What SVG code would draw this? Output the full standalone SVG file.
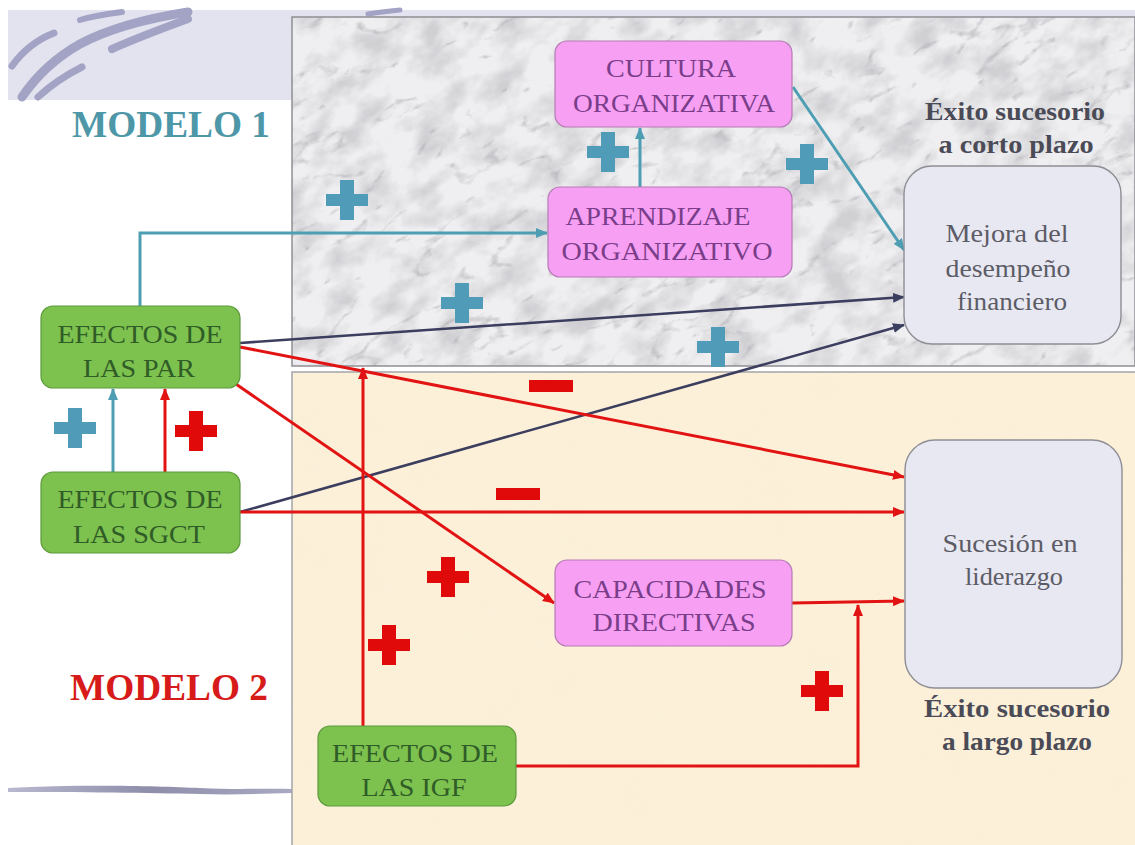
<svg xmlns="http://www.w3.org/2000/svg" width="1135" height="845" viewBox="0 0 1135 845" font-family="'Liberation Serif', 'Times New Roman', serif">
  <defs>
    <style>
      text { font-family: "Liberation Serif", "Times New Roman", serif; }
      .txt { text-anchor: middle; }
      .pink rect { fill: #f7a0f3; stroke: #b57bb4; stroke-width: 1.2; }
      .pink text { fill: #7a3d8a; font-size: 26px; }
      .green rect { fill: #7dc14f; stroke: #5d9a3c; stroke-width: 1.2; }
      .green text { fill: #2f5c27; font-size: 26px; }
      .grey rect { fill: #e8e8f3; stroke: #8d8d94; stroke-width: 1.4; }
      .grey text { fill: #5c5c66; font-size: 26px; }
      .caption { fill: #4b4b57; font-size: 26px; font-weight: bold; }
      .model { font-size: 37px; font-weight: bold; }
      .teal { fill: none; stroke: #4d9db3; stroke-width: 3; }
      .navy { fill: none; stroke: #3b3e5e; stroke-width: 2.6; }
      .red { fill: none; stroke: #e21313; stroke-width: 3; }
      .swoosh { fill: none; stroke: #a3a3c6; stroke-linecap: round; }
    </style>
    <marker id="aTeal" viewBox="0 0 12 10" refX="11" refY="5" markerWidth="12" markerHeight="10" markerUnits="userSpaceOnUse" orient="auto">
      <path d="M0,0 L12,5 L0,10 z" fill="#4d9db3"/>
    </marker>
    <marker id="aNavy" viewBox="0 0 12 10" refX="11" refY="5" markerWidth="12" markerHeight="10" markerUnits="userSpaceOnUse" orient="auto">
      <path d="M0,0 L12,5 L0,10 z" fill="#3b3e5e"/>
    </marker>
    <marker id="aRed" viewBox="0 0 12 10" refX="11" refY="5" markerWidth="12" markerHeight="10" markerUnits="userSpaceOnUse" orient="auto">
      <path d="M0,0 L12,5 L0,10 z" fill="#e21313"/>
    </marker>
    <path id="plus" d="M-21,-6 H-7 V-20 H7 V-6 H21 V6 H7 V20 H-7 V6 H-21 Z"/>
    <rect id="minus" x="-22" y="-6" width="44" height="12"/>
    <clipPath id="marbleClip"><rect x="292" y="17" width="843" height="349"/></clipPath>
    <clipPath id="creamClip"><rect x="292" y="372" width="843" height="473"/></clipPath>
    <!-- marble veining: thin dark lines where turbulence is near zero -->
    <filter id="veins" x="0" y="0" width="1" height="1">
      <feTurbulence type="turbulence" baseFrequency="0.012 0.026" numOctaves="5" seed="3"/>
      <feColorMatrix type="matrix" values="0 0 0 0 0.38  0 0 0 0 0.38  0 0 0 0 0.41  -6 0 0 0 0.95"/>
    </filter>
    <filter id="cloud" x="0" y="0" width="1" height="1">
      <feTurbulence type="fractalNoise" baseFrequency="0.025 0.04" numOctaves="4" seed="9"/>
      <feColorMatrix type="matrix" values="0 0 0 0 0.5  0 0 0 0 0.5  0 0 0 0 0.53  2.6 0 0 0 -1.05"/>
    </filter>
    <filter id="mottle" x="0" y="0" width="1" height="1">
      <feTurbulence type="fractalNoise" baseFrequency="0.015" numOctaves="3" seed="4"/>
      <feColorMatrix type="matrix" values="0 0 0 0 0.94  0 0 0 0 0.85  0 0 0 0 0.68  1.6 0 0 0 -0.7"/>
    </filter>
    <linearGradient id="lineGrad" x1="0" y1="0" x2="1" y2="0">
      <stop offset="0" stop-color="#b8b8cf"/>
      <stop offset="0.5" stop-color="#8e8eab"/>
      <stop offset="1" stop-color="#a9a9c2"/>
    </linearGradient>
  </defs>

  <!-- page background and decorative band -->
  <rect x="0" y="0" width="1135" height="845" fill="#ffffff"/>
  <rect x="8" y="10" width="1127" height="90" fill="#e3e3ef"/>
  <path class="swoosh" stroke-width="7" d="M12,66 C22,52 36,40 54,33"/>
  <path class="swoosh" stroke-width="9" d="M22,97 C35,78 55,58 80,44 C110,28 150,18 188,12"/>
  <path class="swoosh" stroke-width="7" d="M38,97 C50,86 64,76 82,67"/>
  <path class="swoosh" stroke-width="8" d="M112,49 C132,40 158,30 188,19"/>
  <path class="swoosh" stroke-width="6" d="M80,20 C93,16 106,14 122,12"/>
  <path class="swoosh" stroke-width="5" d="M368,14 C380,12 390,11 400,10"/>
  <path d="M8,788 C80,784 160,786 200,788 C240,790 270,788 292,789 L292,793 C260,794 230,795 200,794 C150,793 80,792 8,792 Z" fill="url(#lineGrad)"/>

  <!-- upper marble panel -->
  <rect x="292" y="17" width="843" height="349" fill="#efeff1"/>
  <g clip-path="url(#marbleClip)">
    <rect x="-100" y="-300" width="1600" height="1000" fill="#ffffff" filter="url(#cloud)" opacity="0.6" transform="rotate(-30 713 191)"/>
    <rect x="-100" y="-300" width="1600" height="1000" fill="#ffffff" filter="url(#veins)" opacity="0.65" transform="rotate(-30 713 191)"/>
  </g>
  <rect x="292" y="17" width="843" height="349" fill="none" stroke="#8e8e94" stroke-width="1.5"/>

  <!-- lower cream panel -->
  <rect x="292" y="372" width="843" height="473" fill="#fcf0d9"/>
  <g clip-path="url(#creamClip)">
    <rect x="292" y="372" width="843" height="473" fill="#ffffff" filter="url(#mottle)" opacity="0.45"/>
  </g>
  <path d="M1135,372 H292 V845" fill="none" stroke="#a4a4a8" stroke-width="1.5"/>

  <!-- model titles -->
  <text class="txt model" x="171" y="137" fill="#4e97a8" textLength="198" lengthAdjust="spacingAndGlyphs">MODELO 1</text>
  <text class="txt model" x="169" y="700" fill="#d71a1a" textLength="198" lengthAdjust="spacingAndGlyphs">MODELO 2</text>

  <!-- outcome captions -->
  <text class="txt caption" x="1015" y="120" textLength="180" lengthAdjust="spacingAndGlyphs">Éxito sucesorio</text>
  <text class="txt caption" x="1016" y="153" textLength="155" lengthAdjust="spacingAndGlyphs">a corto plazo</text>
  <text class="txt caption" x="1017" y="717" textLength="186" lengthAdjust="spacingAndGlyphs">Éxito sucesorio</text>
  <text class="txt caption" x="1017" y="750" textLength="150" lengthAdjust="spacingAndGlyphs">a largo plazo</text>

  <!-- connectors -->
  <g id="connectors">
    <path class="teal" d="M140,306 V233 H547" marker-end="url(#aTeal)"/>
    <path class="teal" d="M640,187 V128" marker-end="url(#aTeal)"/>
    <path class="teal" d="M793,87 L904,250" marker-end="url(#aTeal)"/>
    <path class="teal" d="M113,472 V389" marker-end="url(#aTeal)"/>
    <path class="navy" d="M240,343 L904,297" marker-end="url(#aNavy)"/>
    <path class="navy" d="M240,512 L904,325" marker-end="url(#aNavy)"/>
    <path class="red" d="M240,347 L904,477" marker-end="url(#aRed)"/>
    <path class="red" d="M240,512 L904,512" marker-end="url(#aRed)"/>
    <path class="red" d="M233,382 L554,603" marker-end="url(#aRed)"/>
    <path class="red" d="M363,727 V368" marker-end="url(#aRed)"/>
    <path class="red" d="M792,603 L904,601" marker-end="url(#aRed)"/>
    <path class="red" d="M516,766 H858 V605" marker-end="url(#aRed)"/>
    <path class="red" d="M165,472 V389" marker-end="url(#aRed)"/>
  </g>

  <!-- sign labels -->
  <g id="signs">
    <use href="#plus" x="347" y="200" fill="#4f9bb8"/>
    <use href="#plus" x="462" y="303" fill="#4f9bb8"/>
    <use href="#plus" x="608" y="152" fill="#4f9bb8"/>
    <use href="#plus" x="807" y="164" fill="#4f9bb8"/>
    <use href="#plus" x="718" y="347" fill="#4f9bb8"/>
    <use href="#plus" x="75" y="428" fill="#4f9bb8"/>
    <use href="#plus" x="196" y="431" fill="#e00a0a"/>
    <use href="#plus" x="448" y="577" fill="#e00a0a"/>
    <use href="#plus" x="389" y="645" fill="#e00a0a"/>
    <use href="#plus" x="822" y="691" fill="#e00a0a"/>
    <use href="#minus" x="551" y="386" fill="#e00a0a"/>
    <use href="#minus" x="518" y="494" fill="#e00a0a"/>
  </g>

  <!-- nodes -->
  <g id="cultura" class="pink">
    <rect x="555" y="41" width="237" height="86" rx="12"/>
    <text class="txt" x="671" y="77" textLength="130" lengthAdjust="spacingAndGlyphs">CULTURA</text>
    <text class="txt" x="674" y="112" textLength="202" lengthAdjust="spacingAndGlyphs">ORGANIZATIVA</text>
  </g>
  <g id="aprendizaje" class="pink">
    <rect x="548" y="187" width="244" height="90" rx="12"/>
    <text class="txt" x="658" y="225" textLength="185" lengthAdjust="spacingAndGlyphs">APRENDIZAJE</text>
    <text class="txt" x="667" y="260" textLength="211" lengthAdjust="spacingAndGlyphs">ORGANIZATIVO</text>
  </g>
  <g id="capacidades" class="pink">
    <rect x="555" y="560" width="237" height="86" rx="12"/>
    <text class="txt" x="670" y="598" textLength="193" lengthAdjust="spacingAndGlyphs">CAPACIDADES</text>
    <text class="txt" x="674" y="631" textLength="163" lengthAdjust="spacingAndGlyphs">DIRECTIVAS</text>
  </g>
  <g id="par" class="green">
    <rect x="41" y="306" width="199" height="82" rx="12"/>
    <text class="txt" x="140" y="343" textLength="165" lengthAdjust="spacingAndGlyphs">EFECTOS DE</text>
    <text class="txt" x="139" y="377" textLength="112" lengthAdjust="spacingAndGlyphs">LAS PAR</text>
  </g>
  <g id="sgct" class="green">
    <rect x="41" y="472" width="199" height="81" rx="12"/>
    <text class="txt" x="140" y="508" textLength="165" lengthAdjust="spacingAndGlyphs">EFECTOS DE</text>
    <text class="txt" x="139" y="543" textLength="132" lengthAdjust="spacingAndGlyphs">LAS SGCT</text>
  </g>
  <g id="igf" class="green">
    <rect x="318" y="726" width="198" height="80" rx="12"/>
    <text class="txt" x="415" y="762" textLength="166" lengthAdjust="spacingAndGlyphs">EFECTOS DE</text>
    <text class="txt" x="414" y="796" textLength="105" lengthAdjust="spacingAndGlyphs">LAS IGF</text>
  </g>
  <g id="mejora" class="grey">
    <rect x="904" y="166" width="217" height="178" rx="28"/>
    <text class="txt" x="1007" y="242" textLength="123" lengthAdjust="spacingAndGlyphs">Mejora del</text>
    <text class="txt" x="1008" y="277" textLength="125" lengthAdjust="spacingAndGlyphs">desempeño</text>
    <text class="txt" x="1012" y="310" textLength="110" lengthAdjust="spacingAndGlyphs">financiero</text>
  </g>
  <g id="sucesion" class="grey">
    <rect x="905" y="440" width="217" height="248" rx="30"/>
    <text class="txt" x="1010" y="552" textLength="135" lengthAdjust="spacingAndGlyphs">Sucesión en</text>
    <text class="txt" x="1014" y="585" textLength="98" lengthAdjust="spacingAndGlyphs">liderazgo</text>
  </g>
</svg>
